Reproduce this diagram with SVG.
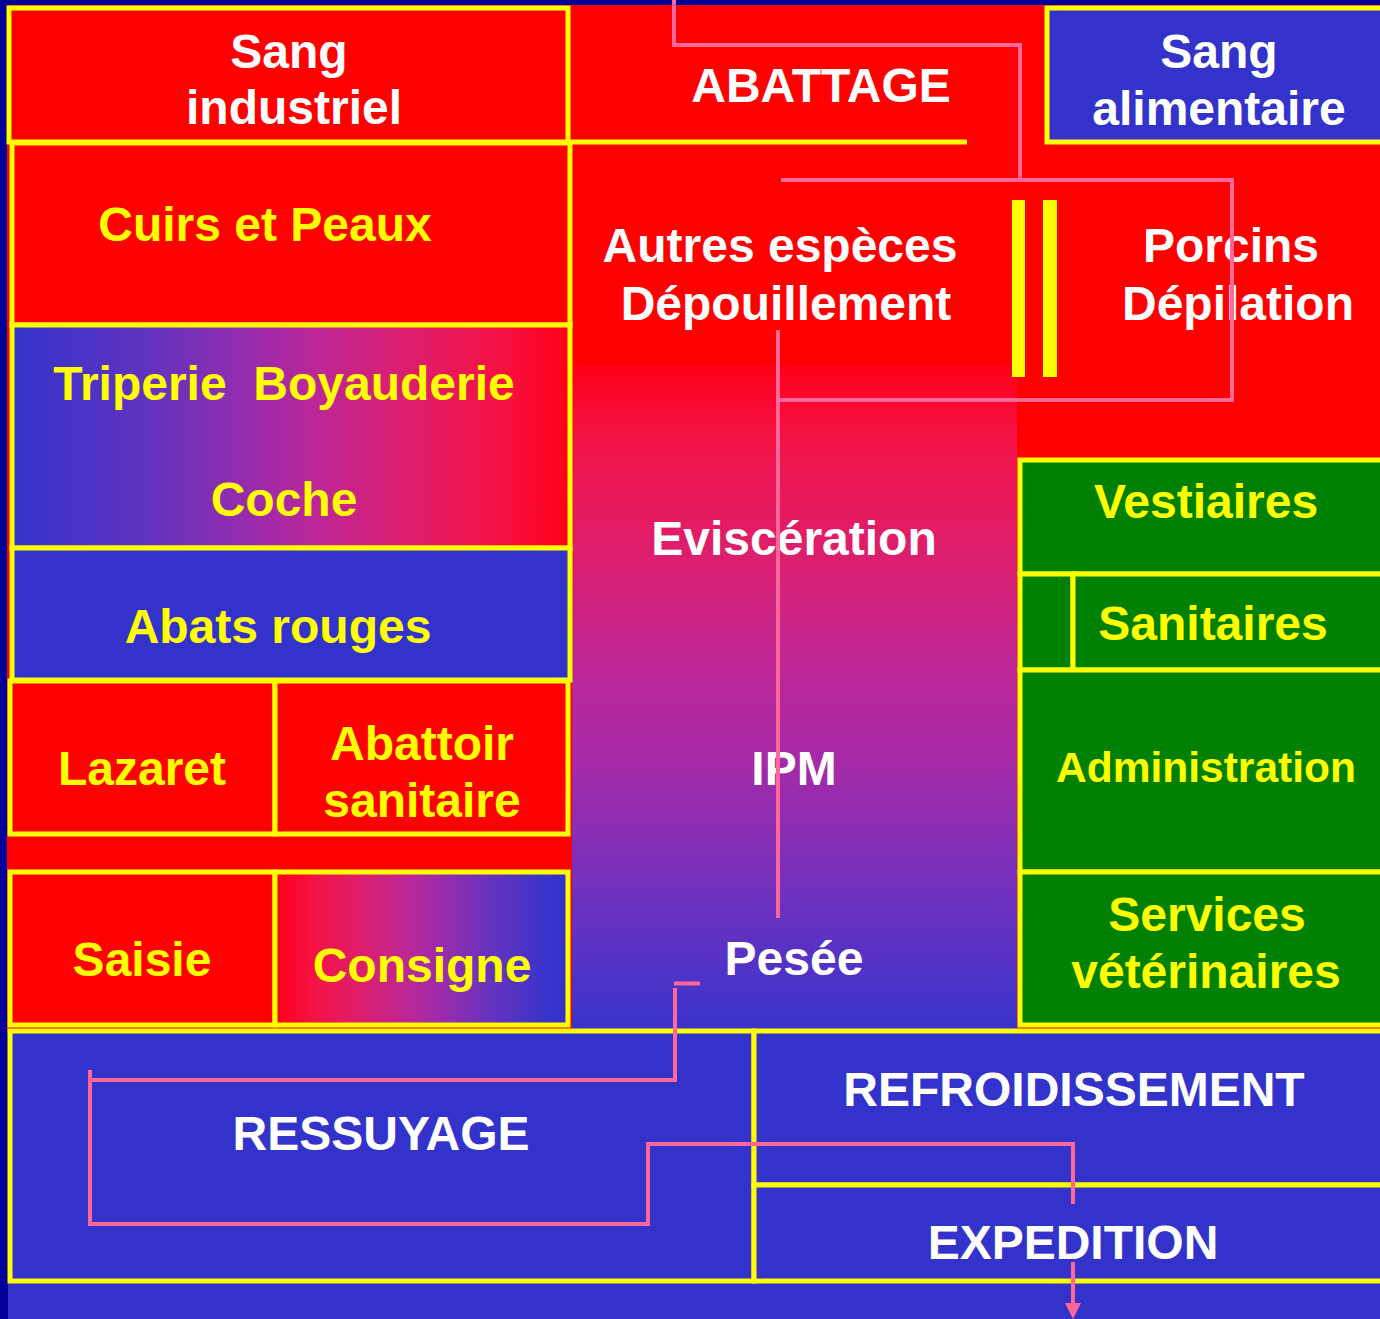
<svg xmlns="http://www.w3.org/2000/svg" width="1380" height="1319" viewBox="0 0 1380 1319">
<style>
.box{stroke:#FFFF00;stroke-width:5}
.red{fill:#FF0000}
.blue{fill:#3333CC}
.green{fill:#008000}
text{font-family:"Liberation Sans",Arial,sans-serif;font-weight:bold;font-size:48px;text-anchor:middle}
.w{fill:#FFFFFF}
.y{fill:#FFFF00}
.conn{stroke:#FF6699;stroke-width:4;fill:none}
</style>
<defs>
<linearGradient id="gTrip" x1="0" y1="0" x2="1" y2="0">
<stop offset="0" stop-color="#3333CC"/>
<stop offset="0.25" stop-color="#6233BF"/>
<stop offset="0.45" stop-color="#A02AAA"/>
<stop offset="0.55" stop-color="#BE2696"/>
<stop offset="0.7" stop-color="#DC1E70"/>
<stop offset="0.85" stop-color="#F2144A"/>
<stop offset="1" stop-color="#FF0018"/>
</linearGradient>
<linearGradient id="gCons" x1="0" y1="0" x2="1" y2="0">
<stop offset="0" stop-color="#FF0018"/>
<stop offset="0.15" stop-color="#F2144A"/>
<stop offset="0.3" stop-color="#DC1E70"/>
<stop offset="0.45" stop-color="#BE2696"/>
<stop offset="0.55" stop-color="#A02AAA"/>
<stop offset="0.75" stop-color="#6233BF"/>
<stop offset="0.95" stop-color="#3333CC"/>
</linearGradient>
<linearGradient id="gMid" x1="0" y1="0" x2="0" y2="1">
<stop offset="0" stop-color="#FF0018"/>
<stop offset="0.12" stop-color="#F2144A"/>
<stop offset="0.28" stop-color="#DE1E6C"/>
<stop offset="0.45" stop-color="#BE2696"/>
<stop offset="0.6" stop-color="#A52AA8"/>
<stop offset="0.8" stop-color="#6E31BF"/>
<stop offset="1" stop-color="#3833CC"/>
</linearGradient>
</defs>

<g id="background">
<rect x="0" y="0" width="1380" height="1319" fill="#000099"/>
<rect x="8" y="1031" width="1372" height="288" fill="#3333CC"/>
<rect x="7" y="5" width="1373" height="1028" fill="#FF0000"/>
<rect x="572" y="365" width="445" height="666" fill="url(#gMid)"/>
</g>

<g id="abattage">
<line x1="540" y1="142" x2="967" y2="142" stroke="#FFFF00" stroke-width="5"/>
<text class="w" x="821" y="102">ABATTAGE</text>
</g>

<g id="sang-industriel">
<rect class="box red" x="9" y="8" width="559" height="134"/>
<text class="w" x="289" y="68">Sang</text>
<text class="w" x="294" y="124">industriel</text>
</g>

<g id="sang-alimentaire">
<rect class="box blue" x="1047" y="8" width="345" height="134"/>
<text class="w" x="1219" y="68">Sang</text>
<text class="w" x="1219" y="125">alimentaire</text>
</g>

<g id="cuirs-peaux">
<rect class="box red" x="12" y="143" width="558" height="182"/>
<text class="y" x="265" y="241">Cuirs et Peaux</text>
</g>

<g id="triperie">
<rect class="box" fill="url(#gTrip)" x="12" y="325" width="558" height="223"/>
<text class="y" x="284" y="400" xml:space="preserve">Triperie  Boyauderie</text>
<text class="y" x="284" y="516">Coche</text>
</g>

<g id="abats-rouges">
<rect class="box blue" x="12" y="548" width="558" height="132"/>
<text class="y" x="278" y="643">Abats rouges</text>
</g>

<g id="lazaret">
<rect class="box red" x="10" y="681" width="265" height="153"/>
<text class="y" x="142" y="785">Lazaret</text>
</g>

<g id="abattoir-sanitaire">
<rect class="box red" x="275" y="681" width="293" height="153"/>
<text class="y" x="422" y="760">Abattoir</text>
<text class="y" x="422" y="817">sanitaire</text>
</g>

<g id="saisie">
<rect class="box red" x="10" y="872" width="265" height="153"/>
<text class="y" x="142" y="976">Saisie</text>
</g>

<g id="consigne">
<rect class="box" fill="url(#gCons)" x="275" y="872" width="293" height="153"/>
<text class="y" x="422" y="982">Consigne</text>
</g>

<g id="separateur">
<rect x="1012" y="200" width="13" height="177" fill="#FFFF00"/>
<rect x="1043" y="200" width="14" height="177" fill="#FFFF00"/>
</g>

<g id="autres-especes">
<text class="w" x="780" y="262">Autres espèces</text>
<text class="w" x="786" y="320">Dépouillement</text>
</g>

<g id="porcins">
<text class="w" x="1231" y="262">Porcins</text>
<text class="w" x="1238" y="320">Dépilation</text>
</g>

<g id="evisceration"><text class="w" x="794" y="555">Eviscération</text></g>
<g id="ipm"><text class="w" x="794" y="785">IPM</text></g>
<g id="pesee"><text class="w" x="794" y="975">Pesée</text></g>

<g id="vestiaires">
<rect class="box green" x="1020" y="460" width="370" height="114"/>
<text class="y" x="1206" y="518">Vestiaires</text>
</g>

<g id="sanitaires">
<rect class="box green" x="1020" y="574" width="53" height="96"/>
<rect class="box green" x="1073" y="574" width="317" height="96"/>
<text class="y" x="1213" y="640">Sanitaires</text>
</g>

<g id="administration">
<rect class="box green" x="1020" y="670" width="370" height="202"/>
<text class="y" x="1206" y="782" style="font-size:42.5px">Administration</text>
</g>

<g id="services-veterinaires">
<rect class="box green" x="1020" y="872" width="370" height="153"/>
<text class="y" x="1207" y="931">Services</text>
<text class="y" x="1206" y="988">vétérinaires</text>
</g>

<g id="ressuyage">
<rect class="box blue" x="10" y="1031" width="744" height="250"/>
<text class="w" x="381" y="1150">RESSUYAGE</text>
</g>

<g id="refroidissement">
<rect class="box blue" x="754" y="1031" width="640" height="154"/>
<text class="w" x="1074" y="1106">REFROIDISSEMENT</text>
</g>

<g id="expedition">
<rect class="box blue" x="754" y="1185" width="640" height="96"/>
<text class="w" x="1073" y="1259">EXPEDITION</text>
</g>

<g id="connectors">
<polyline class="conn" points="674,0 674,45 1020,45 1020,180"/>
<polyline class="conn" points="781,180 1232,180 1232,400 778,400"/>
<line class="conn" x1="778" y1="330" x2="778" y2="918"/>
<line class="conn" x1="674" y1="983.5" x2="700" y2="983.5" stroke-width="5"/>
<polyline class="conn" points="675,988 675,1080 90,1080 90,1224 648,1224 648,1144 1073,1144 1073,1204"/>
<line class="conn" x1="90" y1="1070" x2="90" y2="1080"/>
<line class="conn" x1="1073" y1="1262" x2="1073" y2="1304"/>
<path d="M1065,1303 L1081,1303 L1073,1319 z" fill="#FF6699"/>
</g>
</svg>
